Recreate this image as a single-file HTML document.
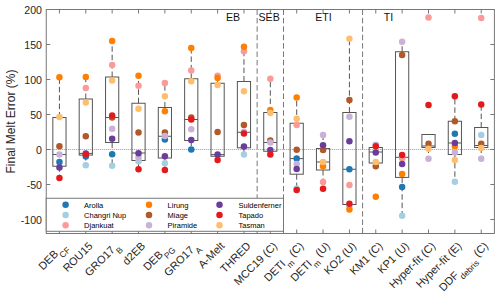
<!DOCTYPE html>
<html><head><meta charset="utf-8"><style>
html,body{margin:0;padding:0;background:#fff;}
svg{display:block;font-family:"Liberation Sans", sans-serif;}
</style></head><body>
<svg width="500" height="297" viewBox="0 0 500 297">
<rect width="500" height="297" fill="#fff"/>
<line x1="46.25" y1="149.5" x2="494.4" y2="149.5" stroke="#999" stroke-width="1" stroke-dasharray="1,1"/>
<line x1="257.14" y1="9.5" x2="257.14" y2="233.5" stroke="#777" stroke-width="1" stroke-dasharray="5.5,2.9"/>
<line x1="283.51" y1="9.5" x2="283.51" y2="233.5" stroke="#777" stroke-width="1" stroke-dasharray="5.5,2.9"/>
<line x1="362.59" y1="9.5" x2="362.59" y2="233.5" stroke="#777" stroke-width="1" stroke-dasharray="5.5,2.9"/>
<line x1="59.43" y1="117.5" x2="59.43" y2="77.2" stroke="#555" stroke-width="1" stroke-dasharray="5.5,2.9"/>
<line x1="59.43" y1="166.25" x2="59.43" y2="178" stroke="#555" stroke-width="1" stroke-dasharray="5.5,2.9"/>
<rect x="52.83" y="117.5" width="13.20" height="48.75" fill="none" stroke="#555" stroke-width="1"/>
<line x1="52.83" y1="154.5" x2="66.03" y2="154.5" stroke="#555" stroke-width="1"/>
<line x1="85.79" y1="99" x2="85.79" y2="77" stroke="#555" stroke-width="1" stroke-dasharray="5.5,2.9"/>
<line x1="85.79" y1="155.1" x2="85.79" y2="165.3" stroke="#555" stroke-width="1" stroke-dasharray="5.5,2.9"/>
<rect x="79.19" y="99" width="13.20" height="56.10" fill="none" stroke="#555" stroke-width="1"/>
<line x1="79.19" y1="153.4" x2="92.39" y2="153.4" stroke="#555" stroke-width="1"/>
<line x1="112.15" y1="77" x2="112.15" y2="41" stroke="#555" stroke-width="1" stroke-dasharray="5.5,2.9"/>
<line x1="112.15" y1="142.5" x2="112.15" y2="165.75" stroke="#555" stroke-width="1" stroke-dasharray="5.5,2.9"/>
<rect x="105.55" y="77" width="13.20" height="65.50" fill="none" stroke="#555" stroke-width="1"/>
<line x1="105.55" y1="117.5" x2="118.75" y2="117.5" stroke="#555" stroke-width="1"/>
<line x1="138.52" y1="103.25" x2="138.52" y2="75.5" stroke="#555" stroke-width="1" stroke-dasharray="5.5,2.9"/>
<line x1="138.52" y1="160.5" x2="138.52" y2="169.25" stroke="#555" stroke-width="1" stroke-dasharray="5.5,2.9"/>
<rect x="131.92" y="103.25" width="13.20" height="57.25" fill="none" stroke="#555" stroke-width="1"/>
<line x1="131.92" y1="153" x2="145.12" y2="153" stroke="#555" stroke-width="1"/>
<line x1="164.88" y1="107.5" x2="164.88" y2="83" stroke="#555" stroke-width="1" stroke-dasharray="5.5,2.9"/>
<line x1="164.88" y1="158" x2="164.88" y2="170" stroke="#555" stroke-width="1" stroke-dasharray="5.5,2.9"/>
<rect x="158.28" y="107.5" width="13.20" height="50.50" fill="none" stroke="#555" stroke-width="1"/>
<line x1="158.28" y1="136.25" x2="171.48" y2="136.25" stroke="#555" stroke-width="1"/>
<line x1="191.24" y1="78.75" x2="191.24" y2="48" stroke="#555" stroke-width="1" stroke-dasharray="5.5,2.9"/>
<line x1="191.24" y1="140.5" x2="191.24" y2="149.5" stroke="#555" stroke-width="1" stroke-dasharray="5.5,2.9"/>
<rect x="184.64" y="78.75" width="13.20" height="61.75" fill="none" stroke="#555" stroke-width="1"/>
<line x1="184.64" y1="119.5" x2="197.84" y2="119.5" stroke="#555" stroke-width="1"/>
<line x1="217.60" y1="83.25" x2="217.60" y2="75.75" stroke="#555" stroke-width="1" stroke-dasharray="5.5,2.9"/>
<line x1="217.60" y1="156.25" x2="217.60" y2="160" stroke="#555" stroke-width="1" stroke-dasharray="5.5,2.9"/>
<rect x="211.00" y="83.25" width="13.20" height="73.00" fill="none" stroke="#555" stroke-width="1"/>
<line x1="211.00" y1="154.6" x2="224.20" y2="154.6" stroke="#555" stroke-width="1"/>
<line x1="243.96" y1="81.5" x2="243.96" y2="46.7" stroke="#555" stroke-width="1" stroke-dasharray="5.5,2.9"/>
<line x1="243.96" y1="147.8" x2="243.96" y2="154.5" stroke="#555" stroke-width="1" stroke-dasharray="5.5,2.9"/>
<rect x="237.36" y="81.5" width="13.20" height="66.30" fill="none" stroke="#555" stroke-width="1"/>
<line x1="237.36" y1="132.3" x2="250.56" y2="132.3" stroke="#555" stroke-width="1"/>
<line x1="270.32" y1="112.5" x2="270.32" y2="78.75" stroke="#555" stroke-width="1" stroke-dasharray="5.5,2.9"/>
<line x1="270.32" y1="151.25" x2="270.32" y2="154.5" stroke="#555" stroke-width="1" stroke-dasharray="5.5,2.9"/>
<rect x="263.72" y="112.5" width="13.20" height="38.75" fill="none" stroke="#555" stroke-width="1"/>
<line x1="263.72" y1="142.5" x2="276.93" y2="142.5" stroke="#555" stroke-width="1"/>
<line x1="296.69" y1="123.25" x2="296.69" y2="97.5" stroke="#555" stroke-width="1" stroke-dasharray="5.5,2.9"/>
<line x1="296.69" y1="174.2" x2="296.69" y2="190" stroke="#555" stroke-width="1" stroke-dasharray="5.5,2.9"/>
<rect x="290.09" y="123.25" width="13.20" height="50.95" fill="none" stroke="#555" stroke-width="1"/>
<line x1="290.09" y1="158.6" x2="303.29" y2="158.6" stroke="#555" stroke-width="1"/>
<line x1="323.05" y1="148.5" x2="323.05" y2="134.5" stroke="#555" stroke-width="1" stroke-dasharray="5.5,2.9"/>
<line x1="323.05" y1="170" x2="323.05" y2="188.75" stroke="#555" stroke-width="1" stroke-dasharray="5.5,2.9"/>
<rect x="316.45" y="148.5" width="13.20" height="21.50" fill="none" stroke="#555" stroke-width="1"/>
<line x1="316.45" y1="162" x2="329.65" y2="162" stroke="#555" stroke-width="1"/>
<line x1="349.41" y1="112.5" x2="349.41" y2="38.75" stroke="#555" stroke-width="1" stroke-dasharray="5.5,2.9"/>
<line x1="349.41" y1="204.5" x2="349.41" y2="209.5" stroke="#555" stroke-width="1" stroke-dasharray="5.5,2.9"/>
<rect x="342.81" y="112.5" width="13.20" height="92.00" fill="none" stroke="#555" stroke-width="1"/>
<line x1="342.81" y1="169.25" x2="356.01" y2="169.25" stroke="#555" stroke-width="1"/>
<line x1="375.77" y1="147.5" x2="375.77" y2="143" stroke="#555" stroke-width="1" stroke-dasharray="5.5,2.9"/>
<rect x="369.17" y="147.5" width="13.20" height="15.50" fill="none" stroke="#555" stroke-width="1"/>
<line x1="369.17" y1="152" x2="382.37" y2="152" stroke="#555" stroke-width="1"/>
<line x1="402.13" y1="51.75" x2="402.13" y2="41.75" stroke="#555" stroke-width="1" stroke-dasharray="5.5,2.9"/>
<line x1="402.13" y1="177.4" x2="402.13" y2="215.75" stroke="#555" stroke-width="1" stroke-dasharray="5.5,2.9"/>
<rect x="395.53" y="51.75" width="13.20" height="125.65" fill="none" stroke="#555" stroke-width="1"/>
<line x1="395.53" y1="157.3" x2="408.73" y2="157.3" stroke="#555" stroke-width="1"/>
<line x1="428.50" y1="147.5" x2="428.50" y2="158.75" stroke="#555" stroke-width="1" stroke-dasharray="5.5,2.9"/>
<rect x="421.90" y="134.5" width="13.20" height="13.00" fill="none" stroke="#555" stroke-width="1"/>
<line x1="421.90" y1="146" x2="435.10" y2="146" stroke="#555" stroke-width="1"/>
<line x1="454.86" y1="121.25" x2="454.86" y2="96.25" stroke="#555" stroke-width="1" stroke-dasharray="5.5,2.9"/>
<line x1="454.86" y1="154.5" x2="454.86" y2="181.75" stroke="#555" stroke-width="1" stroke-dasharray="5.5,2.9"/>
<rect x="448.26" y="121.25" width="13.20" height="33.25" fill="none" stroke="#555" stroke-width="1"/>
<line x1="448.26" y1="143" x2="461.46" y2="143" stroke="#555" stroke-width="1"/>
<line x1="481.22" y1="127.5" x2="481.22" y2="104.5" stroke="#555" stroke-width="1" stroke-dasharray="5.5,2.9"/>
<line x1="481.22" y1="147.5" x2="481.22" y2="158.75" stroke="#555" stroke-width="1" stroke-dasharray="5.5,2.9"/>
<rect x="474.62" y="127.5" width="13.20" height="20.00" fill="none" stroke="#555" stroke-width="1"/>
<line x1="474.62" y1="145.5" x2="487.82" y2="145.5" stroke="#555" stroke-width="1"/>
<circle cx="59.43" cy="162" r="3.25" fill="#1f78b4"/>
<circle cx="59.43" cy="77.2" r="3.25" fill="#ff7f00"/>
<circle cx="59.43" cy="146.3" r="3.25" fill="#b15928"/>
<circle cx="59.43" cy="154.5" r="3.25" fill="#cab2d6"/>
<circle cx="59.43" cy="167.5" r="3.25" fill="#6a3d9a"/>
<circle cx="59.43" cy="178" r="3.25" fill="#e31a1c"/>
<circle cx="59.43" cy="117" r="3.25" fill="#fdbf6f"/>
<circle cx="85.79" cy="156.4" r="3.25" fill="#1f78b4"/>
<circle cx="85.79" cy="165.3" r="3.25" fill="#a6cee3"/>
<circle cx="85.79" cy="88" r="3.25" fill="#fb9a99"/>
<circle cx="85.79" cy="77" r="3.25" fill="#ff7f00"/>
<circle cx="85.79" cy="136.25" r="3.25" fill="#b15928"/>
<circle cx="85.79" cy="153.4" r="3.25" fill="#6a3d9a"/>
<circle cx="85.79" cy="154.6" r="3.25" fill="#e31a1c"/>
<circle cx="85.79" cy="102.5" r="3.25" fill="#fdbf6f"/>
<circle cx="112.15" cy="154.25" r="3.25" fill="#1f78b4"/>
<circle cx="112.15" cy="165.75" r="3.25" fill="#a6cee3"/>
<circle cx="112.15" cy="65" r="3.25" fill="#fb9a99"/>
<circle cx="112.15" cy="41" r="3.25" fill="#ff7f00"/>
<circle cx="112.15" cy="117.6" r="3.25" fill="#b15928"/>
<circle cx="112.15" cy="128.75" r="3.25" fill="#cab2d6"/>
<circle cx="112.15" cy="138.75" r="3.25" fill="#6a3d9a"/>
<circle cx="112.15" cy="115.5" r="3.25" fill="#e31a1c"/>
<circle cx="112.15" cy="80.5" r="3.25" fill="#fdbf6f"/>
<circle cx="138.52" cy="161.25" r="3.25" fill="#a6cee3"/>
<circle cx="138.52" cy="85.75" r="3.25" fill="#fb9a99"/>
<circle cx="138.52" cy="75.75" r="3.25" fill="#ff7f00"/>
<circle cx="138.52" cy="132.5" r="3.25" fill="#b15928"/>
<circle cx="138.52" cy="157.5" r="3.25" fill="#cab2d6"/>
<circle cx="138.52" cy="153.25" r="3.25" fill="#6a3d9a"/>
<circle cx="138.52" cy="169.25" r="3.25" fill="#e31a1c"/>
<circle cx="138.52" cy="108.75" r="3.25" fill="#fdbf6f"/>
<circle cx="164.88" cy="139.5" r="3.25" fill="#1f78b4"/>
<circle cx="164.88" cy="163.25" r="3.25" fill="#a6cee3"/>
<circle cx="164.88" cy="83" r="3.25" fill="#fb9a99"/>
<circle cx="164.88" cy="111.25" r="3.25" fill="#ff7f00"/>
<circle cx="164.88" cy="132.5" r="3.25" fill="#b15928"/>
<circle cx="164.88" cy="136" r="3.25" fill="#cab2d6"/>
<circle cx="164.88" cy="156.25" r="3.25" fill="#6a3d9a"/>
<circle cx="164.88" cy="170" r="3.25" fill="#e31a1c"/>
<circle cx="164.88" cy="96.25" r="3.25" fill="#fdbf6f"/>
<circle cx="191.24" cy="149.5" r="3.25" fill="#1f78b4"/>
<circle cx="191.24" cy="70.5" r="3.25" fill="#fb9a99"/>
<circle cx="191.24" cy="48" r="3.25" fill="#ff7f00"/>
<circle cx="191.24" cy="117.6" r="3.25" fill="#b15928"/>
<circle cx="191.24" cy="129.25" r="3.25" fill="#cab2d6"/>
<circle cx="191.24" cy="140" r="3.25" fill="#6a3d9a"/>
<circle cx="191.24" cy="119.5" r="3.25" fill="#e31a1c"/>
<circle cx="191.24" cy="81.25" r="3.25" fill="#fdbf6f"/>
<circle cx="217.60" cy="75.75" r="3.25" fill="#fb9a99"/>
<circle cx="217.60" cy="78" r="3.25" fill="#ff7f00"/>
<circle cx="217.60" cy="132" r="3.25" fill="#b15928"/>
<circle cx="217.60" cy="154.5" r="3.25" fill="#6a3d9a"/>
<circle cx="217.60" cy="160" r="3.25" fill="#e31a1c"/>
<circle cx="217.60" cy="85" r="3.25" fill="#fdbf6f"/>
<circle cx="243.96" cy="154.5" r="3.25" fill="#a6cee3"/>
<circle cx="243.96" cy="51.2" r="3.25" fill="#fb9a99"/>
<circle cx="243.96" cy="46.7" r="3.25" fill="#ff7f00"/>
<circle cx="243.96" cy="125" r="3.25" fill="#b15928"/>
<circle cx="243.96" cy="131.8" r="3.25" fill="#cab2d6"/>
<circle cx="243.96" cy="146.5" r="3.25" fill="#6a3d9a"/>
<circle cx="243.96" cy="133.4" r="3.25" fill="#e31a1c"/>
<circle cx="243.96" cy="91.2" r="3.25" fill="#fdbf6f"/>
<circle cx="270.32" cy="78.75" r="3.25" fill="#fb9a99"/>
<circle cx="270.32" cy="110" r="3.25" fill="#ff7f00"/>
<circle cx="270.32" cy="140.5" r="3.25" fill="#b15928"/>
<circle cx="270.32" cy="142.5" r="3.25" fill="#cab2d6"/>
<circle cx="270.32" cy="150" r="3.25" fill="#6a3d9a"/>
<circle cx="270.32" cy="154.5" r="3.25" fill="#e31a1c"/>
<circle cx="270.32" cy="113" r="3.25" fill="#fdbf6f"/>
<circle cx="296.69" cy="158.6" r="3.25" fill="#1f78b4"/>
<circle cx="296.69" cy="188.5" r="3.25" fill="#a6cee3"/>
<circle cx="296.69" cy="125" r="3.25" fill="#fb9a99"/>
<circle cx="296.69" cy="97.5" r="3.25" fill="#ff7f00"/>
<circle cx="296.69" cy="149.8" r="3.25" fill="#b15928"/>
<circle cx="296.69" cy="163.9" r="3.25" fill="#cab2d6"/>
<circle cx="296.69" cy="168.9" r="3.25" fill="#6a3d9a"/>
<circle cx="296.69" cy="190" r="3.25" fill="#e31a1c"/>
<circle cx="296.69" cy="118.75" r="3.25" fill="#fdbf6f"/>
<circle cx="323.05" cy="182" r="3.25" fill="#fb9a99"/>
<circle cx="323.05" cy="166.25" r="3.25" fill="#ff7f00"/>
<circle cx="323.05" cy="150" r="3.25" fill="#b15928"/>
<circle cx="323.05" cy="135" r="3.25" fill="#cab2d6"/>
<circle cx="323.05" cy="145.25" r="3.25" fill="#6a3d9a"/>
<circle cx="323.05" cy="188.75" r="3.25" fill="#e31a1c"/>
<circle cx="323.05" cy="162" r="3.25" fill="#fdbf6f"/>
<circle cx="349.41" cy="169.25" r="3.25" fill="#1f78b4"/>
<circle cx="349.41" cy="206.5" r="3.25" fill="#a6cee3"/>
<circle cx="349.41" cy="185" r="3.25" fill="#fb9a99"/>
<circle cx="349.41" cy="209.5" r="3.25" fill="#ff7f00"/>
<circle cx="349.41" cy="100" r="3.25" fill="#b15928"/>
<circle cx="349.41" cy="116.75" r="3.25" fill="#cab2d6"/>
<circle cx="349.41" cy="141.25" r="3.25" fill="#6a3d9a"/>
<circle cx="349.41" cy="203.75" r="3.25" fill="#e31a1c"/>
<circle cx="349.41" cy="38.75" r="3.25" fill="#fdbf6f"/>
<circle cx="375.77" cy="196.75" r="3.25" fill="#ff7f00"/>
<circle cx="375.77" cy="166.25" r="3.25" fill="#b15928"/>
<circle cx="375.77" cy="144.8" r="3.25" fill="#cab2d6"/>
<circle cx="375.77" cy="152.5" r="3.25" fill="#6a3d9a"/>
<circle cx="375.77" cy="146.25" r="3.25" fill="#e31a1c"/>
<circle cx="375.77" cy="162" r="3.25" fill="#fdbf6f"/>
<circle cx="402.13" cy="187" r="3.25" fill="#1f78b4"/>
<circle cx="402.13" cy="215.75" r="3.25" fill="#a6cee3"/>
<circle cx="402.13" cy="158.3" r="3.25" fill="#fb9a99"/>
<circle cx="402.13" cy="174.1" r="3.25" fill="#ff7f00"/>
<circle cx="402.13" cy="55" r="3.25" fill="#b15928"/>
<circle cx="402.13" cy="41.75" r="3.25" fill="#cab2d6"/>
<circle cx="402.13" cy="164" r="3.25" fill="#6a3d9a"/>
<circle cx="402.13" cy="155" r="3.25" fill="#e31a1c"/>
<circle cx="428.50" cy="17.5" r="3.25" fill="#fb9a99"/>
<circle cx="428.50" cy="143.75" r="3.25" fill="#b15928"/>
<circle cx="428.50" cy="158.75" r="3.25" fill="#cab2d6"/>
<circle cx="428.50" cy="105" r="3.25" fill="#e31a1c"/>
<circle cx="428.50" cy="148.75" r="3.25" fill="#fdbf6f"/>
<circle cx="454.86" cy="133.75" r="3.25" fill="#1f78b4"/>
<circle cx="454.86" cy="181.75" r="3.25" fill="#a6cee3"/>
<circle cx="454.86" cy="146.25" r="3.25" fill="#ff7f00"/>
<circle cx="454.86" cy="121.25" r="3.25" fill="#b15928"/>
<circle cx="454.86" cy="152.5" r="3.25" fill="#cab2d6"/>
<circle cx="454.86" cy="143" r="3.25" fill="#6a3d9a"/>
<circle cx="454.86" cy="96.25" r="3.25" fill="#e31a1c"/>
<circle cx="454.86" cy="160" r="3.25" fill="#fdbf6f"/>
<circle cx="481.22" cy="135" r="3.25" fill="#a6cee3"/>
<circle cx="481.22" cy="18" r="3.25" fill="#fb9a99"/>
<circle cx="481.22" cy="143.75" r="3.25" fill="#b15928"/>
<circle cx="481.22" cy="158.75" r="3.25" fill="#cab2d6"/>
<circle cx="481.22" cy="104.5" r="3.25" fill="#e31a1c"/>
<circle cx="481.22" cy="148" r="3.25" fill="#fdbf6f"/>
<rect x="46.25" y="9.5" width="448.15" height="224.0" fill="none" stroke="#777" stroke-width="1"/>
<line x1="59.43" y1="9.5" x2="59.43" y2="13.5" stroke="#777" stroke-width="1"/>
<line x1="59.43" y1="233.5" x2="59.43" y2="229.5" stroke="#777" stroke-width="1"/>
<line x1="85.79" y1="9.5" x2="85.79" y2="13.5" stroke="#777" stroke-width="1"/>
<line x1="85.79" y1="233.5" x2="85.79" y2="229.5" stroke="#777" stroke-width="1"/>
<line x1="112.15" y1="9.5" x2="112.15" y2="13.5" stroke="#777" stroke-width="1"/>
<line x1="112.15" y1="233.5" x2="112.15" y2="229.5" stroke="#777" stroke-width="1"/>
<line x1="138.52" y1="9.5" x2="138.52" y2="13.5" stroke="#777" stroke-width="1"/>
<line x1="138.52" y1="233.5" x2="138.52" y2="229.5" stroke="#777" stroke-width="1"/>
<line x1="164.88" y1="9.5" x2="164.88" y2="13.5" stroke="#777" stroke-width="1"/>
<line x1="164.88" y1="233.5" x2="164.88" y2="229.5" stroke="#777" stroke-width="1"/>
<line x1="191.24" y1="9.5" x2="191.24" y2="13.5" stroke="#777" stroke-width="1"/>
<line x1="191.24" y1="233.5" x2="191.24" y2="229.5" stroke="#777" stroke-width="1"/>
<line x1="217.60" y1="9.5" x2="217.60" y2="13.5" stroke="#777" stroke-width="1"/>
<line x1="217.60" y1="233.5" x2="217.60" y2="229.5" stroke="#777" stroke-width="1"/>
<line x1="243.96" y1="9.5" x2="243.96" y2="13.5" stroke="#777" stroke-width="1"/>
<line x1="243.96" y1="233.5" x2="243.96" y2="229.5" stroke="#777" stroke-width="1"/>
<line x1="270.32" y1="9.5" x2="270.32" y2="13.5" stroke="#777" stroke-width="1"/>
<line x1="270.32" y1="233.5" x2="270.32" y2="229.5" stroke="#777" stroke-width="1"/>
<line x1="296.69" y1="9.5" x2="296.69" y2="13.5" stroke="#777" stroke-width="1"/>
<line x1="296.69" y1="233.5" x2="296.69" y2="229.5" stroke="#777" stroke-width="1"/>
<line x1="323.05" y1="9.5" x2="323.05" y2="13.5" stroke="#777" stroke-width="1"/>
<line x1="323.05" y1="233.5" x2="323.05" y2="229.5" stroke="#777" stroke-width="1"/>
<line x1="349.41" y1="9.5" x2="349.41" y2="13.5" stroke="#777" stroke-width="1"/>
<line x1="349.41" y1="233.5" x2="349.41" y2="229.5" stroke="#777" stroke-width="1"/>
<line x1="375.77" y1="9.5" x2="375.77" y2="13.5" stroke="#777" stroke-width="1"/>
<line x1="375.77" y1="233.5" x2="375.77" y2="229.5" stroke="#777" stroke-width="1"/>
<line x1="402.13" y1="9.5" x2="402.13" y2="13.5" stroke="#777" stroke-width="1"/>
<line x1="402.13" y1="233.5" x2="402.13" y2="229.5" stroke="#777" stroke-width="1"/>
<line x1="428.50" y1="9.5" x2="428.50" y2="13.5" stroke="#777" stroke-width="1"/>
<line x1="428.50" y1="233.5" x2="428.50" y2="229.5" stroke="#777" stroke-width="1"/>
<line x1="454.86" y1="9.5" x2="454.86" y2="13.5" stroke="#777" stroke-width="1"/>
<line x1="454.86" y1="233.5" x2="454.86" y2="229.5" stroke="#777" stroke-width="1"/>
<line x1="481.22" y1="9.5" x2="481.22" y2="13.5" stroke="#777" stroke-width="1"/>
<line x1="481.22" y1="233.5" x2="481.22" y2="229.5" stroke="#777" stroke-width="1"/>
<line x1="46.25" y1="9.5" x2="50.25" y2="9.5" stroke="#777" stroke-width="1"/>
<line x1="494.4" y1="9.5" x2="490.4" y2="9.5" stroke="#777" stroke-width="1"/>
<text x="42" y="13.5" text-anchor="end" font-size="10.6" fill="#262626">200</text>
<line x1="46.25" y1="44.5" x2="50.25" y2="44.5" stroke="#777" stroke-width="1"/>
<line x1="494.4" y1="44.5" x2="490.4" y2="44.5" stroke="#777" stroke-width="1"/>
<text x="42" y="48.5" text-anchor="end" font-size="10.6" fill="#262626">150</text>
<line x1="46.25" y1="79.5" x2="50.25" y2="79.5" stroke="#777" stroke-width="1"/>
<line x1="494.4" y1="79.5" x2="490.4" y2="79.5" stroke="#777" stroke-width="1"/>
<text x="42" y="83.5" text-anchor="end" font-size="10.6" fill="#262626">100</text>
<line x1="46.25" y1="114.5" x2="50.25" y2="114.5" stroke="#777" stroke-width="1"/>
<line x1="494.4" y1="114.5" x2="490.4" y2="114.5" stroke="#777" stroke-width="1"/>
<text x="42" y="118.5" text-anchor="end" font-size="10.6" fill="#262626">50</text>
<line x1="46.25" y1="149.5" x2="50.25" y2="149.5" stroke="#777" stroke-width="1"/>
<line x1="494.4" y1="149.5" x2="490.4" y2="149.5" stroke="#777" stroke-width="1"/>
<text x="42" y="153.5" text-anchor="end" font-size="10.6" fill="#262626">0</text>
<line x1="46.25" y1="184.5" x2="50.25" y2="184.5" stroke="#777" stroke-width="1"/>
<line x1="494.4" y1="184.5" x2="490.4" y2="184.5" stroke="#777" stroke-width="1"/>
<text x="42" y="188.5" text-anchor="end" font-size="10.6" fill="#262626">-50</text>
<line x1="46.25" y1="219.5" x2="50.25" y2="219.5" stroke="#777" stroke-width="1"/>
<line x1="494.4" y1="219.5" x2="490.4" y2="219.5" stroke="#777" stroke-width="1"/>
<text x="42" y="223.5" text-anchor="end" font-size="10.6" fill="#262626">-100</text>
<text x="226.0" y="20.6" font-size="10.6" fill="#111">EB</text>
<text x="258.5" y="20.6" font-size="10.6" fill="#111">SEB</text>
<text x="315.2" y="20.6" font-size="10.6" fill="#111">ETI</text>
<text x="383.8" y="20.6" font-size="10.6" fill="#111">TI</text>
<rect x="46.25" y="198.25" width="237.25" height="33.05000000000001" fill="#fff" stroke="#777" stroke-width="1"/>
<circle cx="65.6" cy="204.7" r="3.25" fill="#1f78b4"/>
<text x="84.1" y="207.5" font-size="7.5" fill="#000">Arolla</text>
<circle cx="65.6" cy="215.1" r="3.25" fill="#a6cee3"/>
<text x="84.1" y="217.9" font-size="7.5" fill="#000">Changri Nup</text>
<circle cx="65.6" cy="225.3" r="3.25" fill="#fb9a99"/>
<text x="84.1" y="228.10000000000002" font-size="7.5" fill="#000">Djankuat</text>
<circle cx="149.0" cy="204.7" r="3.25" fill="#ff7f00"/>
<text x="167.6" y="207.5" font-size="7.5" fill="#000">Lirung</text>
<circle cx="149.0" cy="215.1" r="3.25" fill="#b15928"/>
<text x="167.6" y="217.9" font-size="7.5" fill="#000">Miage</text>
<circle cx="149.0" cy="225.3" r="3.25" fill="#cab2d6"/>
<text x="167.6" y="228.10000000000002" font-size="7.5" fill="#000">Piramide</text>
<circle cx="219.5" cy="204.7" r="3.25" fill="#6a3d9a"/>
<text x="238.5" y="207.5" font-size="7.5" fill="#000">Suldenferner</text>
<circle cx="219.5" cy="215.1" r="3.25" fill="#e31a1c"/>
<text x="238.5" y="217.9" font-size="7.5" fill="#000">Tapado</text>
<circle cx="219.5" cy="225.3" r="3.25" fill="#fdbf6f"/>
<text x="238.5" y="228.10000000000002" font-size="7.5" fill="#000">Tasman</text>
<text transform="translate(64.13,243.8) rotate(-45)" x="0" y="4" text-anchor="end" font-size="11" fill="#262626">DEB<tspan font-size="8.5" dy="5.5">CF</tspan></text>
<text transform="translate(90.49,243.8) rotate(-45)" x="0" y="4" text-anchor="end" font-size="11" fill="#262626">ROU15</text>
<text transform="translate(116.85,243.8) rotate(-45)" x="0" y="4" text-anchor="end" font-size="11" fill="#262626">GRO17<tspan font-size="8.5" dy="5.5">B</tspan></text>
<text transform="translate(143.22,243.8) rotate(-45)" x="0" y="4" text-anchor="end" font-size="11" fill="#262626">d2EB</text>
<text transform="translate(169.58,243.8) rotate(-45)" x="0" y="4" text-anchor="end" font-size="11" fill="#262626">DEB<tspan font-size="8.5" dy="5.5">PG</tspan></text>
<text transform="translate(195.94,243.8) rotate(-45)" x="0" y="4" text-anchor="end" font-size="11" fill="#262626">GRO17<tspan font-size="8.5" dy="5.5">A</tspan></text>
<text transform="translate(222.30,243.8) rotate(-45)" x="0" y="4" text-anchor="end" font-size="11" fill="#262626">A-Melt</text>
<text transform="translate(248.66,243.8) rotate(-45)" x="0" y="4" text-anchor="end" font-size="11" fill="#262626">THRED</text>
<text transform="translate(275.02,243.8) rotate(-45)" x="0" y="4" text-anchor="end" font-size="11" fill="#262626">MCC19 (C)</text>
<text transform="translate(301.39,243.8) rotate(-45)" x="0" y="4" text-anchor="end" font-size="11" fill="#262626">DETI<tspan font-size="8.5" dy="5.5">m</tspan><tspan dy="-5.5"> (C)</tspan></text>
<text transform="translate(327.75,243.8) rotate(-45)" x="0" y="4" text-anchor="end" font-size="11" fill="#262626">DETI<tspan font-size="8.5" dy="5.5">m</tspan><tspan dy="-5.5"> (U)</tspan></text>
<text transform="translate(354.11,243.8) rotate(-45)" x="0" y="4" text-anchor="end" font-size="11" fill="#262626">KO2 (U)</text>
<text transform="translate(380.47,243.8) rotate(-45)" x="0" y="4" text-anchor="end" font-size="11" fill="#262626">KM1 (C)</text>
<text transform="translate(406.83,243.8) rotate(-45)" x="0" y="4" text-anchor="end" font-size="11" fill="#262626">KP1 (U)</text>
<text transform="translate(433.20,243.8) rotate(-45)" x="0" y="4" text-anchor="end" font-size="11" fill="#262626">Hyper-fit (C)</text>
<text transform="translate(459.56,243.8) rotate(-45)" x="0" y="4" text-anchor="end" font-size="11" fill="#262626">Hyper-fit (E)</text>
<text transform="translate(485.92,243.8) rotate(-45)" x="0" y="4" text-anchor="end" font-size="11" fill="#262626">DDF<tspan font-size="8.5" dy="5.5">debris</tspan><tspan dy="-5.5"> (C)</tspan></text>
<text transform="translate(15,121.5) rotate(-90)" text-anchor="middle" font-size="12" fill="#262626">Final Melt Error (%)</text>
</svg></body></html>
